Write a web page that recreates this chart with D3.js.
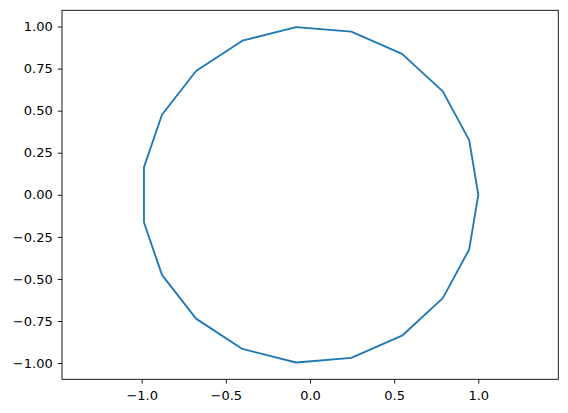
<!DOCTYPE html>
<html><head><meta charset="utf-8">
<script src="https://cdn.jsdelivr.net/npm/d3@7"></script>
<style>body{margin:0;background:#fff}svg{display:block}text{font-family:"DejaVu Sans",sans-serif}</style>
</head><body>
<script>
const xs = [1, 0.9458, 0.7891, 0.5469, 0.2455, -0.0826, -0.4017, -0.6773, -0.8795, -0.9864,
  -0.9864, -0.8795, -0.6773, -0.4017, -0.0826, 0.2455, 0.5469, 0.7891, 0.9458, 1];
const ys = [0, 0.3247, 0.6142, 0.8372, 0.9694, 0.9966, 0.9158, 0.7357, 0.4759, 0.1646,
  -0.1646, -0.4759, -0.7357, -0.9158, -0.9966, -0.9694, -0.8372, -0.6142, -0.3247, 0];
const xTicks = [-1.0, -0.5, 0.0, 0.5, 1.0];
const yTicks = [-1.0, -0.75, -0.5, -0.25, 0, 0.25, 0.5, 0.75, 1.0];

const W = 568, H = 413;
const L = 62, R = 558.3, T = 10.3, B = 379.3;
const svg = d3.select("body").append("svg").attr("width", W).attr("height", H);
const x = d3.scaleLinear().domain([-1.4735, 1.4753]).range([L, R]);
const y = d3.scaleLinear().domain([-1.0963, 1.0963]).range([B, T]);
const fmtMinus = s => s.replace("-", "\u2212");

const line = d3.line().x((d, i) => x(xs[i])).y((d, i) => y(ys[i]));
svg.append("path").datum(xs).attr("d", line).attr("fill", "none")
  .attr("stroke", "#1f77b4").attr("stroke-width", 1.85).attr("stroke-linejoin", "round").attr("stroke-linecap", "square");

const xa = svg.append("g").attr("transform", `translate(0,${B})`)
  .call(d3.axisBottom(x).tickValues(xTicks).tickSize(4.3).tickPadding(7).tickFormat(d => fmtMinus(d3.format(".1f")(d))));
const ya = svg.append("g").attr("transform", `translate(${L},0)`)
  .call(d3.axisLeft(y).tickValues(yTicks).tickSize(4.3).tickPadding(5).tickFormat(d => fmtMinus(d3.format(".2f")(d))));
[xa, ya].forEach(g => {
  g.select(".domain").remove();
  g.selectAll("line").attr("stroke", "#000").attr("stroke-width", 0.9);
  g.selectAll("text").attr("fill", "#000").style("font-size", "13px").style("font-family", "'DejaVu Sans', sans-serif");
});
svg.append("rect").attr("x", L).attr("y", T).attr("width", R - L).attr("height", B - T)
  .attr("fill", "none").attr("stroke", "#000").attr("stroke-width", 0.9);
</script>
</body></html>
